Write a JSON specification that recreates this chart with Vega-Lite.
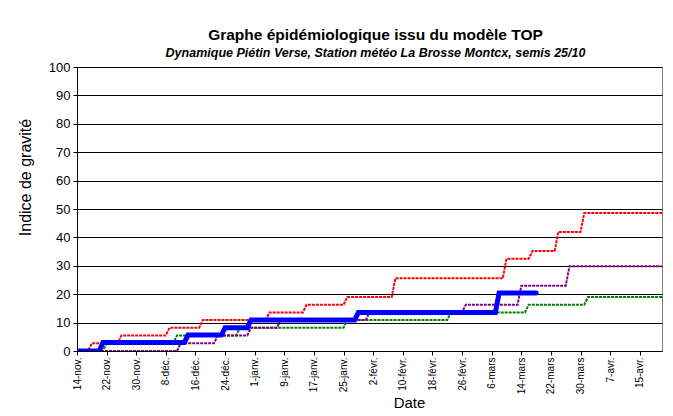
{
  "$schema": "https://vega.github.io/schema/vega-lite/v6.json",
  "width": 585,
  "height": 284,
  "autosize": "none",
  "padding": {"left": 77, "top": 67, "right": 11, "bottom": 65},
  "background": "white",
  "config": {
    "font": "Liberation Sans",
    "view": {"stroke": "#808080", "strokeWidth": 1},
    "axis": {"domainColor": "#000000", "tickColor": "#000000", "labelColor": "#000000", "titleColor": "#000000", "titleFontWeight": "normal"}
  },
  "title": {
    "text": "Graphe épidémiologique issu du modèle TOP",
    "subtitle": "Dynamique Piétin Verse, Station météo La Brosse Montcx, semis 25/10",
    "anchor": "middle",
    "frame": "group",
    "font": "Liberation Sans",
    "fontSize": 15.5,
    "fontWeight": "bold",
    "color": "#000000",
    "dx": 6,
    "subtitleFont": "Liberation Sans",
    "subtitleFontSize": 12.5,
    "subtitleFontWeight": "bold",
    "subtitleFontStyle": "italic",
    "subtitleColor": "#000000",
    "subtitlePadding": 3,
    "offset": 2
  },
  "datasets": {
    "courbes": [
      {"serie": "rouge", "date": "2010-11-14", "indice": 0},
      {"serie": "rouge", "date": "2010-11-17", "indice": 0},
      {"serie": "rouge", "date": "2010-11-18", "indice": 2.7},
      {"serie": "rouge", "date": "2010-11-25", "indice": 2.7},
      {"serie": "rouge", "date": "2010-11-26", "indice": 5.5},
      {"serie": "rouge", "date": "2010-12-08", "indice": 5.5},
      {"serie": "rouge", "date": "2010-12-09", "indice": 8.2},
      {"serie": "rouge", "date": "2010-12-17", "indice": 8.2},
      {"serie": "rouge", "date": "2010-12-18", "indice": 10.9},
      {"serie": "rouge", "date": "2011-01-04", "indice": 10.9},
      {"serie": "rouge", "date": "2011-01-05", "indice": 13.6},
      {"serie": "rouge", "date": "2011-01-14", "indice": 13.6},
      {"serie": "rouge", "date": "2011-01-15", "indice": 16.3},
      {"serie": "rouge", "date": "2011-01-25", "indice": 16.3},
      {"serie": "rouge", "date": "2011-01-26", "indice": 19.0},
      {"serie": "rouge", "date": "2011-02-07", "indice": 19.0},
      {"serie": "rouge", "date": "2011-02-08", "indice": 25.6},
      {"serie": "rouge", "date": "2011-03-09", "indice": 25.6},
      {"serie": "rouge", "date": "2011-03-10", "indice": 32.5},
      {"serie": "rouge", "date": "2011-03-16", "indice": 32.5},
      {"serie": "rouge", "date": "2011-03-17", "indice": 35.2},
      {"serie": "rouge", "date": "2011-03-23", "indice": 35.2},
      {"serie": "rouge", "date": "2011-03-24", "indice": 41.9},
      {"serie": "rouge", "date": "2011-03-30", "indice": 41.9},
      {"serie": "rouge", "date": "2011-03-31", "indice": 48.6},
      {"serie": "rouge", "date": "2011-04-21", "indice": 48.6},

      {"serie": "verte", "date": "2010-11-14", "indice": 0},
      {"serie": "verte", "date": "2010-11-21", "indice": 0},
      {"serie": "verte", "date": "2010-11-22", "indice": 2.7},
      {"serie": "verte", "date": "2010-12-10", "indice": 2.7},
      {"serie": "verte", "date": "2010-12-11", "indice": 5.5},
      {"serie": "verte", "date": "2010-12-27", "indice": 5.5},
      {"serie": "verte", "date": "2010-12-28", "indice": 8.2},
      {"serie": "verte", "date": "2011-01-25", "indice": 8.2},
      {"serie": "verte", "date": "2011-01-26", "indice": 10.9},
      {"serie": "verte", "date": "2011-02-22", "indice": 10.9},
      {"serie": "verte", "date": "2011-02-23", "indice": 13.6},
      {"serie": "verte", "date": "2011-03-15", "indice": 13.6},
      {"serie": "verte", "date": "2011-03-16", "indice": 16.3},
      {"serie": "verte", "date": "2011-03-31", "indice": 16.3},
      {"serie": "verte", "date": "2011-04-01", "indice": 19.0},
      {"serie": "verte", "date": "2011-04-21", "indice": 19.0},

      {"serie": "violette", "date": "2010-11-14", "indice": 0},
      {"serie": "violette", "date": "2010-12-11", "indice": 0},
      {"serie": "violette", "date": "2010-12-12", "indice": 2.7},
      {"serie": "violette", "date": "2010-12-21", "indice": 2.7},
      {"serie": "violette", "date": "2010-12-22", "indice": 5.5},
      {"serie": "violette", "date": "2010-12-30", "indice": 5.5},
      {"serie": "violette", "date": "2010-12-31", "indice": 8.2},
      {"serie": "violette", "date": "2011-01-07", "indice": 8.2},
      {"serie": "violette", "date": "2011-01-08", "indice": 10.9},
      {"serie": "violette", "date": "2011-01-31", "indice": 10.9},
      {"serie": "violette", "date": "2011-02-01", "indice": 13.6},
      {"serie": "violette", "date": "2011-02-26", "indice": 13.6},
      {"serie": "violette", "date": "2011-02-27", "indice": 16.3},
      {"serie": "violette", "date": "2011-03-13", "indice": 16.3},
      {"serie": "violette", "date": "2011-03-14", "indice": 23.0},
      {"serie": "violette", "date": "2011-03-26", "indice": 23.0},
      {"serie": "violette", "date": "2011-03-27", "indice": 29.8},
      {"serie": "violette", "date": "2011-04-21", "indice": 29.8}
    ],
    "bleue": [
      {"serie": "bleue", "date": "2010-11-14", "indice": 0},
      {"serie": "bleue", "date": "2010-11-20", "indice": 0},
      {"serie": "bleue", "date": "2010-11-21", "indice": 3.0},
      {"serie": "bleue", "date": "2010-12-13", "indice": 3.0},
      {"serie": "bleue", "date": "2010-12-14", "indice": 5.6},
      {"serie": "bleue", "date": "2010-12-23", "indice": 5.6},
      {"serie": "bleue", "date": "2010-12-24", "indice": 8.2},
      {"serie": "bleue", "date": "2010-12-30", "indice": 8.2},
      {"serie": "bleue", "date": "2010-12-31", "indice": 10.9},
      {"serie": "bleue", "date": "2011-01-28", "indice": 10.9},
      {"serie": "bleue", "date": "2011-01-29", "indice": 13.6},
      {"serie": "bleue", "date": "2011-03-07", "indice": 13.6},
      {"serie": "bleue", "date": "2011-03-08", "indice": 20.4},
      {"serie": "bleue", "date": "2011-03-18", "indice": 20.4}
    ]
  },
  "encoding": {
    "x": {
      "field": "date",
      "type": "temporal",
      "scale": {"type": "utc", "domain": ["2010-11-14", "2011-04-21"]},
      "axis": {
        "title": "Date",
        "titleFontSize": 15,
        "titleX": 332,
        "titleY": 56,
        "titleBaseline": "alphabetic",
        "grid": false,
        "values": [
          {"year": 2010, "month": 11, "date": 14, "utc": true},
          {"year": 2010, "month": 11, "date": 22, "utc": true},
          {"year": 2010, "month": 11, "date": 30, "utc": true},
          {"year": 2010, "month": 12, "date": 8, "utc": true},
          {"year": 2010, "month": 12, "date": 16, "utc": true},
          {"year": 2010, "month": 12, "date": 24, "utc": true},
          {"year": 2011, "month": 1, "date": 1, "utc": true},
          {"year": 2011, "month": 1, "date": 9, "utc": true},
          {"year": 2011, "month": 1, "date": 17, "utc": true},
          {"year": 2011, "month": 1, "date": 25, "utc": true},
          {"year": 2011, "month": 2, "date": 2, "utc": true},
          {"year": 2011, "month": 2, "date": 10, "utc": true},
          {"year": 2011, "month": 2, "date": 18, "utc": true},
          {"year": 2011, "month": 2, "date": 26, "utc": true},
          {"year": 2011, "month": 3, "date": 6, "utc": true},
          {"year": 2011, "month": 3, "date": 14, "utc": true},
          {"year": 2011, "month": 3, "date": 22, "utc": true},
          {"year": 2011, "month": 3, "date": 30, "utc": true},
          {"year": 2011, "month": 4, "date": 7, "utc": true},
          {"year": 2011, "month": 4, "date": 15, "utc": true}
        ],
        "labelExpr": "utcdate(datum.value) + '-' + ['janv.','févr.','mars','avr.','mai','juin','juil.','août','sept.','oct.','nov.','déc.'][utcmonth(datum.value)]",
        "labelAngle": -90,
        "labelFontSize": 10,
        "labelPadding": 2,
        "labelDx": 1,
        "tickSize": 4,
        "labelOverlap": false,
        "labelBound": false,
        "labelFlush": false
      }
    },
    "y": {
      "field": "indice",
      "type": "quantitative",
      "scale": {"domain": [0, 100], "nice": false},
      "axis": {
        "title": "Indice de gravité",
        "titleFontSize": 16,
        "titleX": -44,
        "titleY": 110,
        "titleBaseline": "bottom",
        "values": [0, 10, 20, 30, 40, 50, 60, 70, 80, 90, 100],
        "labelFontSize": 13,
        "labelPadding": 3,
        "tickSize": 4,
        "grid": true,
        "gridColor": "#000000",
        "gridWidth": 1
      }
    }
  },
  "layer": [
    {
      "data": {"name": "courbes"},
      "mark": {"type": "line", "strokeWidth": 2, "strokeDash": [3, 1], "clip": true},
      "encoding": {
        "color": {
          "field": "serie",
          "type": "nominal",
          "scale": {"domain": ["verte", "violette", "rouge"], "range": ["#008000", "#800080", "#FF0000"]},
          "legend": null
        }
      }
    },
    {
      "data": {"name": "bleue"},
      "mark": {"type": "line", "strokeWidth": 5, "color": "#0000FF", "strokeCap": "round", "clip": true},
      "encoding": {}
    }
  ]
}
